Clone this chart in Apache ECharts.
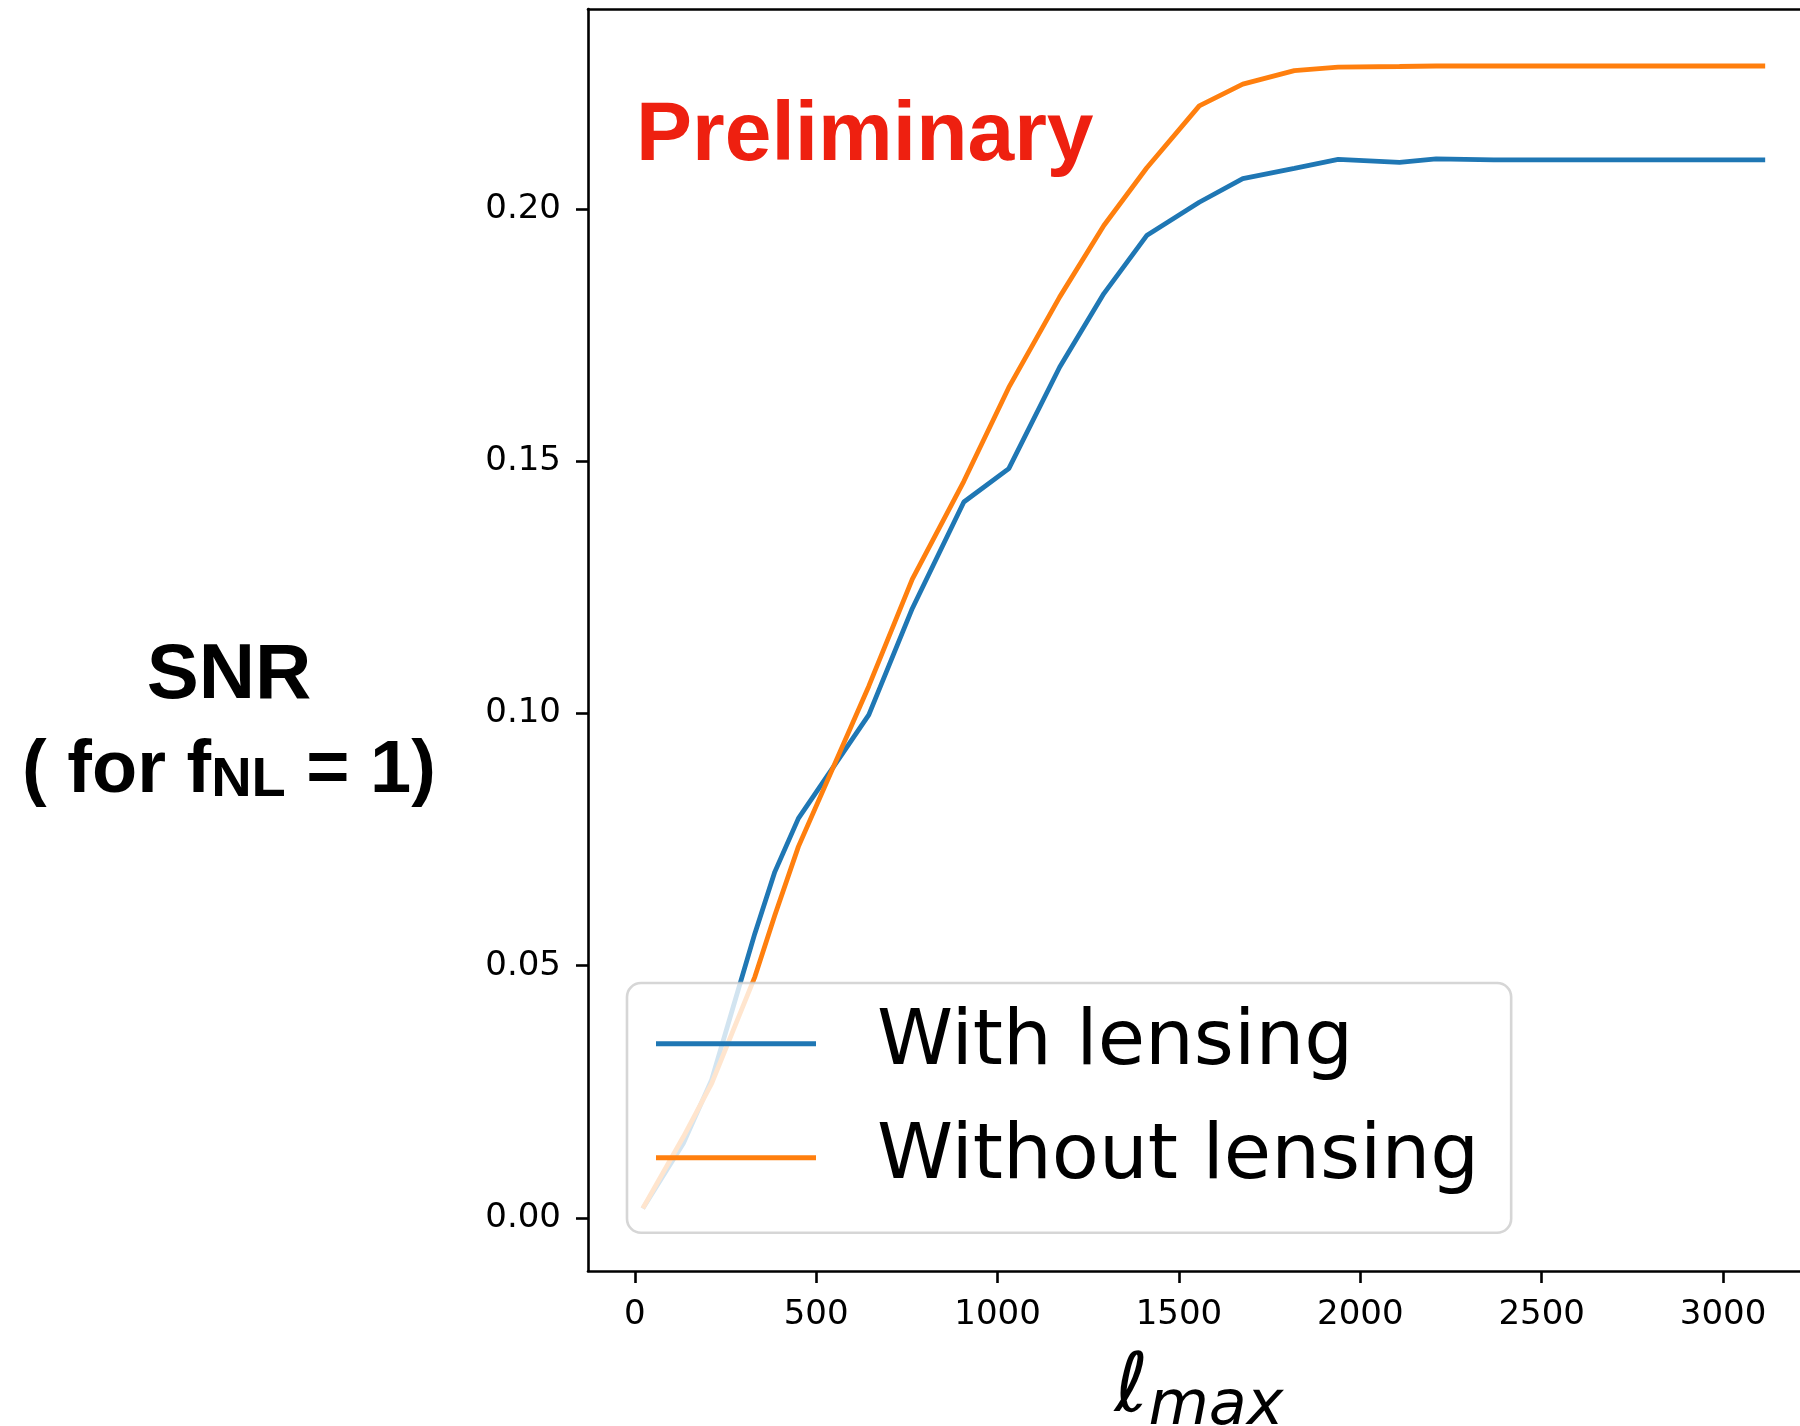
<!DOCTYPE html>
<html>
<head>
<meta charset="utf-8">
<script src="https://cdn.jsdelivr.net/npm/echarts@6/dist/echarts.min.js"></script>
<style>
html,body{margin:0;padding:0;background:#fff;}
#chart{width:1800px;height:1426px;}
</style>
</head>
<body>
<div id="chart"></div>
<script>
// ---- data ----
const ellMax = [22, 134, 212, 331, 386, 451, 645, 765, 907, 1031, 1171, 1293, 1411, 1556, 1676, 1818, 1939, 2108, 2209, 2368, 3116];
const withLensing = [0.0019, 0.0148, 0.0274, 0.0564, 0.0686, 0.0792, 0.0997, 0.1208, 0.1419, 0.1485, 0.1686, 0.1832, 0.1947, 0.2013, 0.2060, 0.2080, 0.2098, 0.2092, 0.2099, 0.2097, 0.2097];
const withoutLensing = [0.0019, 0.0161, 0.0267, 0.0478, 0.0600, 0.0736, 0.1054, 0.1266, 0.1460, 0.1646, 0.1825, 0.1967, 0.2081, 0.2204, 0.2247, 0.2274, 0.2281, 0.2282, 0.2283, 0.2283, 0.2283];
const seriesNames = ['With lensing', 'Without lensing'];
const xTicks = [0, 500, 1000, 1500, 2000, 2500, 3000];
const yTicks = [0, 0.05, 0.10, 0.15, 0.20];

const pairs = (xs, ys) => xs.map((x, i) => [x, ys[i]]);

const chart = echarts.init(document.getElementById('chart'), null, {renderer: 'canvas'});
const tickFont = {fontFamily: 'DejaVu Sans', fontSize: 34, color: '#000'};
const axisLineStyle = {color: '#000', width: 2.6};

chart.setOption({
  animation: false,
  backgroundColor: '#fff',
  grid: {left: 588, top: 9, right: 0, bottom: 155, containLabel: false, outerBoundsMode: 'none'},
  xAxis: [{
    type: 'value',
    min: -129, max: 3212,
    position: 'bottom',
    axisLine: {show: true, onZero: false, lineStyle: axisLineStyle},
    axisTick: {show: true, length: 12, lineStyle: {color: '#000', width: 2.6}, customValues: xTicks},
    axisLabel: {show: true, margin: 27, customValues: xTicks, formatter: v => String(v), ...tickFont},
    splitLine: {show: false},
    name: '{l|ℓ}{s|max}',
    nameLocation: 'middle',
    nameGap: 78,
    nameTextStyle: {
      rich: {
        l: {fontFamily: 'DejaVu Sans', fontStyle: 'italic', fontSize: 82, lineHeight: 90, verticalAlign: 'bottom', padding: [0, 0, 8, 10], color: '#000'},
        s: {fontFamily: 'DejaVu Sans', fontStyle: 'italic', fontSize: 62, lineHeight: 24, verticalAlign: 'bottom', color: '#000'}
      }
    }
  }, {
    type: 'value',
    min: -129, max: 3212,
    position: 'top',
    axisLine: {show: true, onZero: false, lineStyle: axisLineStyle},
    axisTick: {show: false},
    axisLabel: {show: false},
    splitLine: {show: false}
  }],
  yAxis: {
    type: 'value',
    min: -0.0105, max: 0.2396,
    axisLine: {show: true, onZero: false, lineStyle: axisLineStyle},
    axisTick: {show: true, length: 12, lineStyle: {color: '#000', width: 2.6}, customValues: yTicks},
    axisLabel: {show: true, margin: 27, customValues: yTicks, formatter: v => v.toFixed(2), ...tickFont},
    splitLine: {show: false}
  },
  legend: {
    data: seriesNames,
    orient: 'vertical',
    left: 627, top: 983,
    padding: [22.3, 32, 36.4, 29],
    icon: 'rect',
    itemWidth: 160, itemHeight: 5,
    itemGap: 37,
    selectedMode: false,
    backgroundColor: 'rgba(255,255,255,0.8)',
    borderColor: 'rgba(204,204,204,0.8)',
    borderWidth: 2.6,
    borderRadius: 14,
    textStyle: {fontFamily: 'DejaVu Sans', fontSize: 77, color: '#000', padding: [0, 0, 0, 56]}
  },
  series: [{
    name: seriesNames[0],
    type: 'line',
    data: pairs(ellMax, withLensing),
    symbol: 'none', showSymbol: false,
    lineStyle: {color: '#1f77b4', width: 4.8},
    itemStyle: {color: '#1f77b4'}
  }, {
    name: seriesNames[1],
    type: 'line',
    data: pairs(ellMax, withoutLensing),
    symbol: 'none', showSymbol: false,
    lineStyle: {color: '#ff7f0e', width: 4.8},
    itemStyle: {color: '#ff7f0e'}
  }],
  graphic: [{
    type: 'text', x: 636, y: 137,
    style: {text: 'Preliminary', fill: '#ee2010', font: 'bold 84px "Liberation Sans", Arial, sans-serif', align: 'left', verticalAlign: 'middle'},
    z: 10
  }, {
    type: 'text', x: 229, y: 676,
    style: {text: 'SNR', fill: '#000', font: 'bold 78px "Liberation Sans", Arial, sans-serif', align: 'center', verticalAlign: 'middle'}
  }, {
    type: 'text', x: 229, y: 768.5,
    style: {
      text: '{b|( for f}{c|NL}{b| = 1)}',
      align: 'center', verticalAlign: 'middle', fill: '#000',
      rich: {
        b: {fontFamily: 'Liberation Sans', fontWeight: 'bold', fontSize: 74, lineHeight: 80, verticalAlign: 'bottom', fill: '#000'},
        c: {fontFamily: 'Liberation Sans', fontWeight: 'bold', fontSize: 56, lineHeight: 57, verticalAlign: 'bottom', fill: '#000'}
      }
    }
  }]
});
</script>
</body>
</html>
